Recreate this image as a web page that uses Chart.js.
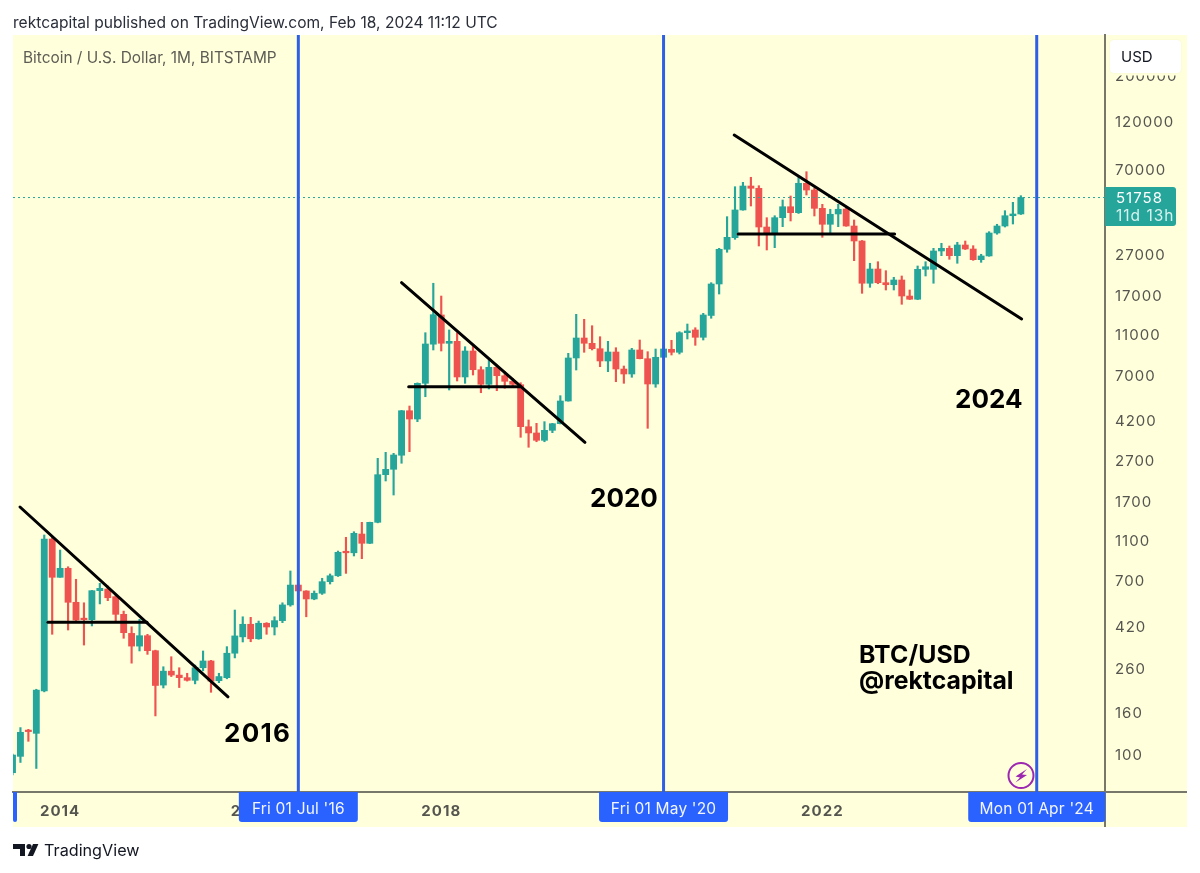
<!DOCTYPE html>
<html><head><meta charset="utf-8">
<style>html,body{margin:0;padding:0;background:#fff}canvas{display:block}</style>
<script src="https://cdn.jsdelivr.net/npm/chart.js@4"></script>
</head><body><canvas id="c" width="1200" height="873"></canvas>
<script>
// Monthly candles, Jul 2013 (index 0) to Feb 2024 (index 127)
const opens=[82,98.5,132,127.5,205,1126,733,811,554,461,456,631,643,590,484,391,339,381,322,219,256,245,238,231,266,287,230,238,313,376,433,368,438,420,451,538,672,629,575,613,698,746,973,965,1191,1073,1358,2316,2460,2880,4744,4323,6450,10000,13880,10100,10330,6925,9265,7513,6380,7719,7024,6600,6350,3966,3697,3405,3808,4102,5290,8569,10720,10101,9508,8285,9162,7571,7160,9372,8500,6401,8635,9445,9134,11376,11730,10804,13800,19640,28980,33000,45030,58900,57410,37200,34900,41300,46700,43680,60720,56300,45860,38350,43050,45500,37620,31800,19800,23230,19930,19480,20540,17160,16550,23150,23150,28430,29300,26970,30410,29070,25790,26890,34780,37620,42220,43050];
const highs=[101,136,133.4,209,1178,1160,995,825,717,551,633,685,665,601,502,421,458,387,324,269,301,266,250,274,321,289,250,337,508,471,468,449,441,471,551,787,684,631,629,725,761,984,1148,1222,1358,1360,2783,2976,2943,4760,5001,6480,11376,19800,17160,11730,11376,9723,9910,7770,8377,7919,7350,6822,6495,4276,4120,4196,4120,5615,9030,13980,13220,12303,10877,10330,9614,7832,9550,10481,9194,9476,9910,10447,11505,12540,12030,14137,19930,29300,41770,58440,61400,64950,59110,41300,42220,50350,52660,65380,69150,57600,47980,45380,47980,46400,40240,32000,24770,25210,22800,21170,21480,18360,24030,25210,29300,30990,30070,31340,31800,30170,27400,35300,38350,44670,49070,52850];
const lows=[80,92,116.6,86,203,387,733,406,441,343,425,544,564,446,370,280,321,309,155,212,241,213,229,222,257,202,225,235,297,355,356,366,387,384,441,530,568,471,570,605,680,740,766,931,903,1070,1350,2158,1844,2632,2997,4196,5550,9372,9265,5984,6620,6450,7079,5805,6051,5937,6099,6211,3521,3149,3351,3351,3708,4090,5280,7487,9134,9372,7770,7350,6567,6450,6902,8480,3895,6170,8580,8858,8961,10600,9875,10481,13370,17550,28030,32400,44900,47080,30070,28750,29500,37340,39790,43300,53250,42090,33140,34400,37340,37500,25500,17690,18920,19700,18360,18360,15640,16500,16480,21480,19800,26970,25900,24770,28900,25600,25040,26800,34300,37200,38470,42800];
const closes=[100,129,130,207,1126,733,811,554,454,456,631,648,583,484,394,339,381,322,218,256,245,238,231,266,287,229,241,313,380,433,368,438,420,451,538,672,629,575,613,698,746,970,965,1200,1073,1358,2316,2460,2888,4744,4323,6450,10023,13920,10101,10330,6925,9265,7513,6380,7719,7024,6598,6380,3966,3697,3405,3808,4102,5290,8569,10720,10101,9508,8285,9162,7571,7160,9372,8500,6401,8635,9476,9134,11376,11597,10804,13875,19640,28980,33140,45030,58900,57410,37200,34900,41300,46700,43680,60720,56300,45860,38350,42900,45380,37620,31800,19800,23230,19930,19480,20540,17160,16550,23150,23830,28430,29300,26970,30410,29070,25790,26890,34780,37620,42220,43050,51758];

const priceTicks=[100,160,260,420,700,1100,1700,2700,4200,7000,11000,17000,27000,70000,120000,200000];
const yearTickIndex=[6,30,54,78,102,126];
const yearTickLabels=['2014','2016','2018','2020','2022','2024'];
const lastPrice=51758;

// Drawn trend lines: month index and price of each end
const trend2016=[[0.945,1612],[27.14,192]];
const flat2016=[[4.47,443],[16.94,443]];
const trend2020=[[49,19930],[72.1,3329]];
const flat2020=[[49.9,6211],[63.9,6211]];
const trend2024=[[90.9,104350],[127.1,13270]];
const flat2024=[[91.4,34400],[111.1,34400]];

// Halving markers
const halvingIndex=[36,82,129];
const halvingLabels=["Fri 01 Jul '16","Fri 01 May '20","Mon 01 Apr '24"];

const xMin=0.063,xMax=137.6,yMin=66.06,yMax=320100;
const UP='#26a69a',DOWN='#ef5350',BG='#ffffdc',BLUE='#2962ff',LINEBLUE='#2f5fe6';
const FONT='Inter, "Noto Sans", sans-serif';
const colors=opens.map((o,i)=>closes[i]>=o?UP:DOWN);
const wicks=opens.map((o,i)=>({x:i,y:[lows[i],highs[i]]}));
const bodies=opens.map((o,i)=>({x:i,y:[Math.min(o,closes[i]),Math.max(o,closes[i])]}));
const seg=(pts)=>({type:'line',data:pts.map(p=>({x:p[0],y:p[1]})),borderColor:'#000',borderWidth:3,pointRadius:0,tension:0,order:1,borderCapStyle:'round'});

function rr(ctx,x,y,w,h,r,fill){ctx.beginPath();ctx.roundRect(x,y,w,h,r);ctx.fillStyle=fill;ctx.fill();}
function txt(ctx,s,x,y,font,color,ls,align){ctx.font=font;ctx.fillStyle=color;ctx.letterSpacing=ls||'0px';ctx.textAlign=align||'left';ctx.textBaseline='middle';ctx.fillText(s,x,y);ctx.letterSpacing='0px';}

const panel={id:'panel',
 beforeDraw(chart){const c=chart.ctx;c.fillStyle='#fff';c.fillRect(0,0,1200,873);c.fillStyle=BG;c.fillRect(13,35,1174,792);c.letterSpacing='1px';},
 beforeDatasetsDraw(chart){chart.ctx.letterSpacing='0px';},
 afterDraw(chart){const c=chart.ctx,a=chart.chartArea,x=chart.scales.x;c.save();
  // axis rules
  c.strokeStyle='#77776a';c.lineWidth=2;
  c.beginPath();c.moveTo(a.right,a.bottom);c.lineTo(1187,a.bottom);c.moveTo(a.right,a.bottom);c.lineTo(a.right,827);c.stroke();
  // time axis halving labels
  rr(c,13,a.bottom,4,30,[0,0,2,2],BLUE);
  const widths=[119,129,137];
  halvingIndex.forEach((h,i)=>{const px=x.getPixelForValue(h);rr(c,px-widths[i]/2,a.bottom,widths[i],30,[0,0,3,3],BLUE);
    txt(c,halvingLabels[i],px,809,'15.5px '+FONT,'#f2f5ff','0.2px','center');});
  // price label
  rr(c,a.right,187,71,39,[0,3,3,0],UP);
  txt(c,String(lastPrice),1116,198,'15px '+FONT,'#fff','1px');
  txt(c,'11d 13h',1116,216.5,'15.5px '+FONT,'#d6f1ee','1px');
  // currency button, over the band that hides the top price label
  c.fillStyle=BG;c.fillRect(a.right+2,36,80,39.5);
  c.shadowColor='rgba(0,0,0,.06)';c.shadowBlur=2;rr(c,1110,40,71,33,4,'#fff');c.shadowBlur=0;
  txt(c,'USD',1121,57,'15px '+FONT,'#131722');
  // header
  txt(c,'rektcapital published on TradingView.com, Feb 18, 2024 11:12 UTC',13,23.5,'15.55px '+FONT,'#2a2e39');
  txt(c,'Bitcoin / U.S. Dollar, 1M, BITSTAMP',23,58.5,'15.4px '+FONT,'#5d5d55');
  // annotations
  const big='700 26px '+FONT;
  txt(c,'2016',224,734.5,big,'#000','1.3px');txt(c,'2020',590,499.5,big,'#000');txt(c,'2024',955,400.5,big,'#000');
  const b2='700 24.8px '+FONT;
  txt(c,'BTC/USD',859,656,b2,'#000','0.1px');txt(c,'@rektcapital',859,682,b2,'#000');
  // boost icon
  c.strokeStyle='#9c27b0';c.lineWidth=2;c.beginPath();c.arc(1021,775.5,12.5,0,Math.PI*2);c.stroke();
  c.fillStyle='#9c27b0';c.beginPath();[[1027,769],[1015.5,776.5],[1020,777.5],[1015.5,782.5],[1027,775],[1022,774.5]].forEach((p,i)=>i?c.lineTo(p[0],p[1]):c.moveTo(p[0],p[1]));c.closePath();c.fill();
  // TradingView mark
  c.fillStyle='#131722';c.fillRect(13,844,12,5);c.fillRect(20,844,5,12);
  c.beginPath();c.arc(29,846.5,2.6,0,Math.PI*2);c.fill();
  c.beginPath();c.moveTo(33,844);c.lineTo(38.4,844);c.lineTo(33,856);c.lineTo(27.6,856);c.closePath();c.fill();
  txt(c,'TradingView',44,851,'16.2px '+FONT,'#131722');
  c.restore();}
};

new Chart(document.getElementById('c'),{
 type:'bar',
 data:{datasets:[
  {label:'wick',data:wicks,backgroundColor:colors,barThickness:1.5,grouped:false,order:5},
  {label:'body',data:bodies,backgroundColor:colors,barThickness:6.2,grouped:false,minBarLength:1.5,order:4},
  {type:'line',label:'last',data:[{x:xMin,y:lastPrice},{x:xMax,y:lastPrice}],borderColor:UP,borderWidth:1,borderDash:[2,3],pointRadius:0,order:3},
  ...halvingIndex.map(h=>({type:'line',data:[{x:h,y:yMin},{x:h,y:yMax}],borderColor:LINEBLUE,borderWidth:3,pointRadius:0,order:2})),
  seg(trend2016),seg(flat2016),seg(trend2020),seg(flat2020),seg(trend2024),seg(flat2024)
 ]},
 options:{responsive:false,animation:false,devicePixelRatio:1,
  layout:{padding:{left:13,top:35,right:13,bottom:46}},
  plugins:{legend:{display:false},tooltip:{enabled:false}},
  scales:{
   x:{type:'linear',min:xMin,max:xMax,offset:false,
    afterBuildTicks(s){s.ticks=yearTickIndex.map(v=>({value:v}));},
    afterFit(s){s.height=35;},
    grid:{display:false,drawTicks:false},
    border:{display:true,color:'#77776a',width:2},
    ticks:{autoSkip:false,maxRotation:0,padding:10,color:'#555550',font:{family:FONT,size:15,weight:'700'},
     callback(v){const i=yearTickIndex.indexOf(v);return i<0?'':yearTickLabels[i];}}},
   y:{type:'logarithmic',position:'right',min:yMin,max:yMax,
    afterBuildTicks(s){s.ticks=priceTicks.map(v=>({value:v}));},
    afterFit(s){s.width=82;},
    grid:{display:false,drawTicks:false},
    border:{display:true,color:'#77776a',width:2},
    ticks:{autoSkip:false,padding:10,color:'#555550',font:{family:FONT,size:15},crossAlign:'near',
     callback(v){return String(v);}}}
  }},
 plugins:[panel]
});
</script></body></html>
